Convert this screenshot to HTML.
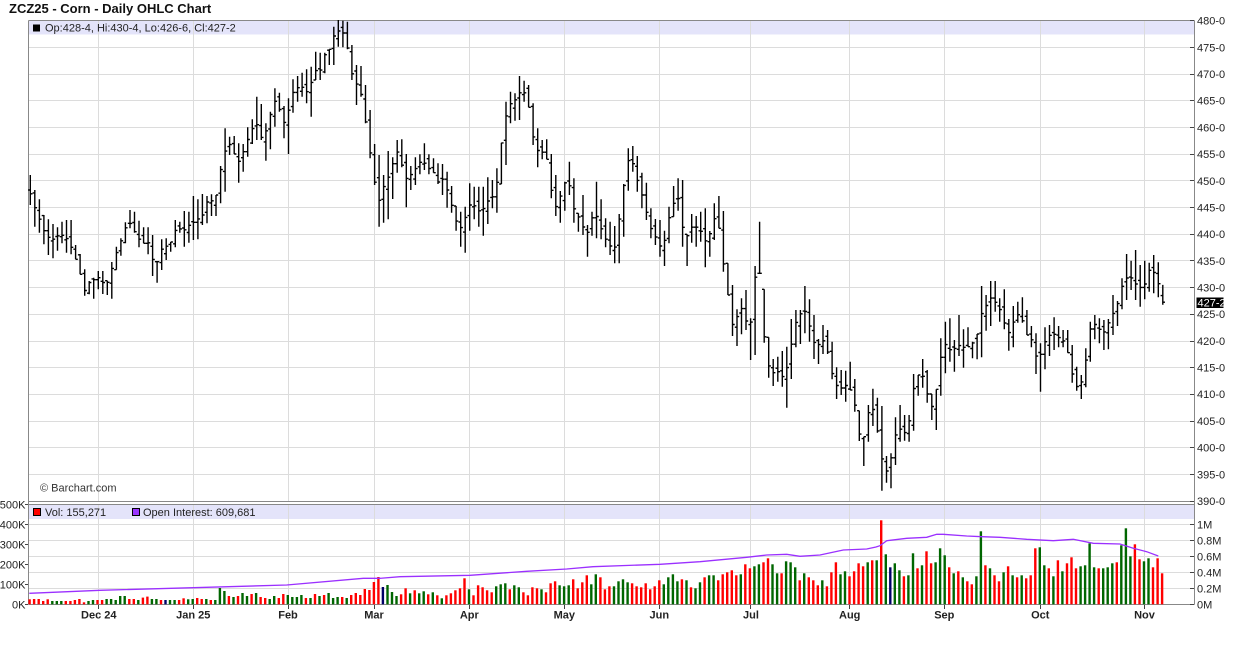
<!DOCTYPE html>
<html><head><meta charset="utf-8"><style>
html,body{margin:0;padding:0;background:#fff;}
svg{display:block;font-family:"Liberation Sans",Arial,sans-serif;}
</style></head><body>
<svg id="c" width="1236" height="645" viewBox="0 0 1236 645" xmlns="http://www.w3.org/2000/svg">
<rect x="0" y="0" width="1236" height="645" fill="#fff"/>
<text x="9" y="13" font-size="13" font-weight="bold" fill="#111">ZCZ25 - Corn - Daily OHLC Chart</text>
<!-- bands -->
<rect x="28.5" y="20.5" width="1166" height="14" fill="#e4e4fa"/>
<rect x="28.5" y="504.5" width="1166" height="14.5" fill="#e4e4fa"/>
<!-- horizontal grid price -->
<g stroke="#dcdcdc" stroke-width="1" fill="none">
<path d="M29 47.5H1194M29 74.5H1194M29 100.5H1194M29 127.5H1194M29 154.5H1194M29 180.5H1194M29 207.5H1194M29 234.5H1194M29 260.5H1194M29 287.5H1194M29 314.5H1194M29 341.5H1194M29 367.5H1194M29 394.5H1194M29 421.5H1194M29 447.5H1194M29 474.5H1194"/>
<path d="M29 524.5H1194M29 540.5H1194M29 556.5H1194M29 572.5H1194M29 588.5H1194"/>
<path d="M98.5 21V501M193.5 21V501M288.5 21V501M374.5 21V501M469.5 21V501M564.5 21V501M659.5 21V501M750.5 21V501M849.5 21V501M944.5 21V501M1040.5 21V501M1144.5 21V501"/>
<path d="M98.5 505V604M193.5 505V604M288.5 505V604M374.5 505V604M469.5 505V604M564.5 505V604M659.5 505V604M750.5 505V604M849.5 505V604M944.5 505V604M1040.5 505V604M1144.5 505V604"/>
</g>
<!-- frame -->
<g stroke="#888" stroke-width="1" fill="none">
<path d="M28.5 20.5H1194.5M28.5 501.5H1194.5M28.5 504.5H1194.5M28.5 604.5H1194.5M28.5 20.5V604.5M1194.5 20.5V604.5"/>
</g>
<!-- ticks -->
<g stroke="#444" stroke-width="1" fill="none">
<path d="M1190 20.5H1194M1190 47.5H1194M1190 74.5H1194M1190 100.5H1194M1190 127.5H1194M1190 154.5H1194M1190 180.5H1194M1190 207.5H1194M1190 234.5H1194M1190 260.5H1194M1190 287.5H1194M1190 314.5H1194M1190 341.5H1194M1190 367.5H1194M1190 394.5H1194M1190 421.5H1194M1190 447.5H1194M1190 474.5H1194M1190 501.5H1194"/>
<path d="M1190 524.5H1194M1190 540.5H1194M1190 556.5H1194M1190 572.5H1194M1190 588.5H1194M1190 604.5H1194"/>
<path d="M25 504.5H28M25 524.5H28M25 544.5H28M25 564.5H28M25 584.5H28M25 604.5H28"/>
<path d="M98.5 605V609M193.5 605V609M288.5 605V609M374.5 605V609M469.5 605V609M564.5 605V609M659.5 605V609M750.5 605V609M849.5 605V609M944.5 605V609M1040.5 605V609M1144.5 605V609"/>
</g>
<!-- price axis labels -->
<g font-size="11" fill="#222">
<text x="1197" y="24.7">480-0</text>
<text x="1197" y="51.4">475-0</text>
<text x="1197" y="78.1">470-0</text>
<text x="1197" y="104.7">465-0</text>
<text x="1197" y="131.4">460-0</text>
<text x="1197" y="158.1">455-0</text>
<text x="1197" y="184.8">450-0</text>
<text x="1197" y="211.5">445-0</text>
<text x="1197" y="238.1">440-0</text>
<text x="1197" y="264.8">435-0</text>
<text x="1197" y="291.5">430-0</text>
<text x="1197" y="318.2">425-0</text>
<text x="1197" y="344.9">420-0</text>
<text x="1197" y="371.5">415-0</text>
<text x="1197" y="398.2">410-0</text>
<text x="1197" y="424.9">405-0</text>
<text x="1197" y="451.6">400-0</text>
<text x="1197" y="478.3">395-0</text>
<text x="1197" y="505">390-0</text>
<text x="1197" y="528.5">1M</text>
<text x="1197" y="544.5">0.8M</text>
<text x="1197" y="560.5">0.6M</text>
<text x="1197" y="576.5">0.4M</text>
<text x="1197" y="592.5">0.2M</text>
<text x="1197" y="608.5">0M</text>
</g>
<g font-size="11" fill="#222" text-anchor="end">
<text x="25.5" y="508.5">500K</text>
<text x="25.5" y="528.5">400K</text>
<text x="25.5" y="548.5">300K</text>
<text x="25.5" y="568.5">200K</text>
<text x="25.5" y="588.5">100K</text>
<text x="25.5" y="608.5">0K</text>
</g>
<g font-size="11" font-weight="bold" fill="#222" text-anchor="middle">
<text x="98.8" y="618.5">Dec 24</text>
<text x="193.3" y="618.5">Jan 25</text>
<text x="288" y="618.5">Feb</text>
<text x="374" y="618.5">Mar</text>
<text x="469.3" y="618.5">Apr</text>
<text x="564.3" y="618.5">May</text>
<text x="659.3" y="618.5">Jun</text>
<text x="751" y="618.5">Jul</text>
<text x="849.7" y="618.5">Aug</text>
<text x="944.3" y="618.5">Sep</text>
<text x="1040.3" y="618.5">Oct</text>
<text x="1144.5" y="618.5">Nov</text>
</g>
<!-- legends -->
<rect x="33" y="24.5" width="7" height="7" fill="#000"/>
<text x="45" y="31.3" font-size="11" fill="#222">Op:428-4, Hi:430-4, Lo:426-6, Cl:427-2</text>
<rect x="33.5" y="508.5" width="7" height="7" fill="#ff0000" stroke="#000" stroke-width="1"/>
<text x="45" y="515.8" font-size="11" fill="#222">Vol: 155,271</text>
<rect x="132.5" y="508.5" width="7" height="7" fill="#9933ff" stroke="#000" stroke-width="1"/>
<text x="143" y="515.8" font-size="11" fill="#222">Open Interest: 609,681</text>
<text x="40" y="491.5" font-size="11" fill="#333">© Barchart.com</text>
<g id="bars"></g>
<g id="vols"></g>
<polyline fill="none" stroke="#9b30ff" stroke-width="1.3" points="29.3,593.3 100,590.3 193.3,587.7 286.7,585 363.3,578.3 380,578.3 400,576.7 470,575.3 526.7,571.3 566.7,569 593,566.7 660,564.3 700,561.7 746.7,557.3 766.7,555 786.7,554.3 800,556.3 820,555 843.3,550 866.7,549 876,547 880,545.7 886.7,540.7 906.7,538.3 926.7,537.3 936.7,534.3 943.3,534.3 966.7,536 981.7,536.7 1000,537.3 1026.7,539.3 1053.3,540.7 1073.3,539.3 1093.3,543.3 1120,544 1133.3,548.3 1146.7,551.7 1158.3,556"/>
<!-- last price box -->
<rect x="1196.5" y="297.5" width="27" height="10.5" fill="#000"/>
<text x="1197.5" y="306.5" font-size="11" fill="#fff">427-2</text>
</svg>
<script>
(function(){
var H=[175,190,199.3,215,219.3,224,227.3,221.7,220,220,
245,254,269.3,281,277.7,271,271,280.7,262,246.7,
238.3,222.3,210,211.7,220.7,227.3,227.3,235,261.7,239.3,
238.3,242,220,221.7,211,211.7,196,199.3,194,196,
194.3,195,166,128.3,136.7,136,143.3,144,127.3,119.3,
96.7,104,123.3,111.7,88.3,92.7,106,98.3,79.3,76,
72.7,69.3,66.7,51.7,52.7,52.7,49.3,26.7,20,20.7,
21.7,45,65,66,85,110,144,155,175,151,
157.3,140,139.3,154,166,157.3,154.3,143.3,154.3,158.3,
163.3,164,171.7,186,206,211.7,206.7,183.3,186.7,186.7,
186.7,177.3,180,168.3,142.7,101.7,91.7,93.3,76,80.7,
85,103.3,128.3,140,139.3,154,175,191,181.7,161.7,
178.3,213.3,195,225,211.7,181.7,199.3,218.3,221.7,226,
214,184,148.3,146,156,172.7,182.7,208.3,219,220,
230.7,206.7,186,178.3,180,234.3,214,216,211.7,208.3,
231,203.3,196,211,263.3,285,309.3,298.3,290,318.3,
266,221.7,289.3,337.3,359,356.7,351,346.7,319,310,
310,286,299.3,315,339,325,330,341.7,367.3,370,
370.7,361.7,379,410.7,436.7,405,388.7,397.7,406,456,
453.3,417.3,405,415,415,374,375,359,370,394,
389.3,338.3,321.7,318.3,340,315,329.3,327.3,341.7,334,
286,295,281,281,298.3,289.3,319,306,301.7,297.3,
310,326,333.3,343.3,327.3,325,317.3,326,330,330,
345,366.7,375,348.3,321.7,315,318.3,320,319,295,
301,278.3,254,260.7,250,265,260.7,262.7,255,262.3,
284.9];
var L=[205,226.7,232.7,244.3,255,258.3,250.7,243.3,252.7,254.3,
259.3,274.3,295.7,294.3,298.7,289.3,294,295,298.7,269.7,
255.7,243.3,228.3,232.7,247.3,243.3,254.3,276,282.7,270,
260,251.7,247.3,232.7,246.7,242.7,240,239.3,225,223.3,
216,216,203.3,191.7,155,154,182.7,171.7,156.7,144,
140,140,160.7,149.3,126.7,111.7,138.3,154,112.7,101.7,
96.7,103.3,116.7,80,80,73.3,65,65,46.7,47.3,
49.3,80,105,96.7,123.3,158.3,185,226.7,222.7,219.3,
199,172.7,167.3,207.3,190,185,174.3,170,174.3,172.7,
184,195,207.7,212.7,230.7,246.7,252.7,230.7,219.3,226.7,
235.7,224,208.3,212.7,184,165,123.3,120.7,120,101.7,
107.3,145,167.3,159.3,159.3,198.3,216,222.7,210.7,195,
222.7,231.7,235,256.7,235.7,238.3,239.3,247.3,255,263.3,
263.3,236.7,190.7,171.7,191.7,208.3,220,238.3,245,256.7,
266,243.3,216.7,210.7,246.7,266,242.7,246.7,241.7,267.3,
256.7,240,228.3,271.7,295,336,346,334.3,330,360,
355,273.3,342.7,377.7,386,381.7,386.7,407.7,379,347.3,
344,333.3,341.7,359,364,354,354,379.3,399,395,
401.7,390,411.7,441,466,441.7,426,432.7,490.7,482.7,
488.3,465,441.7,440.7,441.7,430.7,395.7,387.7,402.7,420,
430,395.7,373.3,361.7,371.7,356,367.7,346.7,358.3,359.3,
357.3,330.7,326,311.7,321.7,329.3,350.7,347.3,322.7,322.7,
335,347.3,374,391.7,369.3,356,350,347.3,347.3,352.7,
382.7,390.7,399,387.3,361.7,339.3,343.3,350,349.3,335,
326,309.3,300,290,300,306.7,299.3,291.7,293.3,297.3,
304.8];
var V=[5,5.3,5.3,3.3,5,3.3,3.3,3.3,3.3,3.3,
4.3,5.3,2,3.3,4.3,4.3,4.3,5.3,5.3,4.3,
8.3,8.3,5.3,5.3,4.3,6.7,7.7,5.3,5.3,4.3,
4.3,4.3,4.3,4.3,6,5,5.3,6.3,5.3,5.3,
4.3,4.3,16.3,13.3,8.3,7.3,8.3,11.3,8.3,10.3,
11.3,7.3,6.3,5.3,8.3,6.3,10.3,9.3,7.3,7.3,
9.3,6.3,6.3,10.3,8.3,9.3,11.3,6.3,7.3,7.3,
6.3,9.3,11.3,9.3,15.3,14.3,22.3,27.3,17.3,19.3,
12.3,8.3,10,16,11,14,11,13,10,12,
9,6,9,11,14,16,26,15,9,19,
17,14,12,18,20,21,15,19,17,12,
9,17,16,15,12,21,23,19,18,19,
25,16,22,29,20,30,27,15,18,18,
23,25,22,21,18,17,21,15,18,24,
20,27,30,23,25,24,17,16,22,27,
29,29,24,30,32,34,29,30,40,36,
38,40,42,46,40,31,31,43,42,37,
24,31,27,24,19,24,18,32,42,30,
33,28,33,41,38,42,44,44,84,50,
37,41,34,28,29,51,36,39,53,41,
42,56,49,37,31,33,27,23,20,28,
73,39,36,29,23,32,38,29,27,29,
26,29,56,57,39,36,28,44,33,41,
47,36,38,39,61,37,36,36,37,41,
42,59,76,48,60,45,43,46,37,46,
31];
var C="rrrrrgggrr"+"rrrggrrggg"+"ggrrgrrggr"+"nggrrggrrg"+"rgggrgrggr"+"grrggrrggg"+"grgrgrgggr"+"grrrrrrrng"+"ggrrgrggrg"+"rgrrrrrgrr"+"rrrgggrggr"+"rrrgrrrggg"+"rrrrggrrrg"+"gggrrrrrrr"+"ggggrgrggr"+"ggrrrrrgrr"+"ggrrggrggg"+"rgrrrgrrrg"+"grrrrgrgrg"+"nggrggrgrr"+"gggrgrgrrg"+"grgrrgrgrg"+"rrrggrgrgr"+"rrggggrggg"+"rgggrrggrr"+"r";
var N=H.length,x0=30.3,dx=4.53;
function cl(v,a,b){return Math.max(a,Math.min(b,v));}
function mid(i){return (H[i]+L[i])/2;}
var d="",prev=null;
for(var i=0;i<N;i++){
  var x=x0+i*dx,h=H[i],l=L[i],o,c;
  var j1=((i*37)%11-5)*0.9, j2=((i*53)%13-6)*0.9;
  if(i==N-1){o=295.6;c=302.2;}
  else{
    o=prev===null?mid(i):cl(prev+j1,h,l);
    c=cl(0.5*mid(i)+0.5*mid(i+1)+j2,h,l);
  }
  prev=c;
  d+="M"+x.toFixed(1)+" "+h.toFixed(1)+"V"+l.toFixed(1)+
     "M"+(x-2.2).toFixed(1)+" "+o.toFixed(1)+"H"+x.toFixed(1)+
     "M"+x.toFixed(1)+" "+c.toFixed(1)+"H"+(x+2.2).toFixed(1);
}
var ns="http://www.w3.org/2000/svg";
var p=document.createElementNS(ns,"path");
p.setAttribute("d",d);p.setAttribute("stroke","#000");p.setAttribute("stroke-width","1.4");p.setAttribute("fill","none");
document.getElementById("bars").appendChild(p);
var g=document.getElementById("vols");
var col={r:"#ff0000",g:"#006600",n:"#000066"};
for(var k=0;k<V.length;k++){
  var xx=x0+k*dx-1.9,hh=V[k];
  var r=document.createElementNS(ns,"rect");
  r.setAttribute("x",xx.toFixed(1));r.setAttribute("y",(604.3-hh).toFixed(1));
  r.setAttribute("width","2.4");r.setAttribute("height",hh.toFixed(1));
  r.setAttribute("fill",col[C.charAt(k)]||"#ff0000");
  g.appendChild(r);
}
})();
</script>
</body></html>
